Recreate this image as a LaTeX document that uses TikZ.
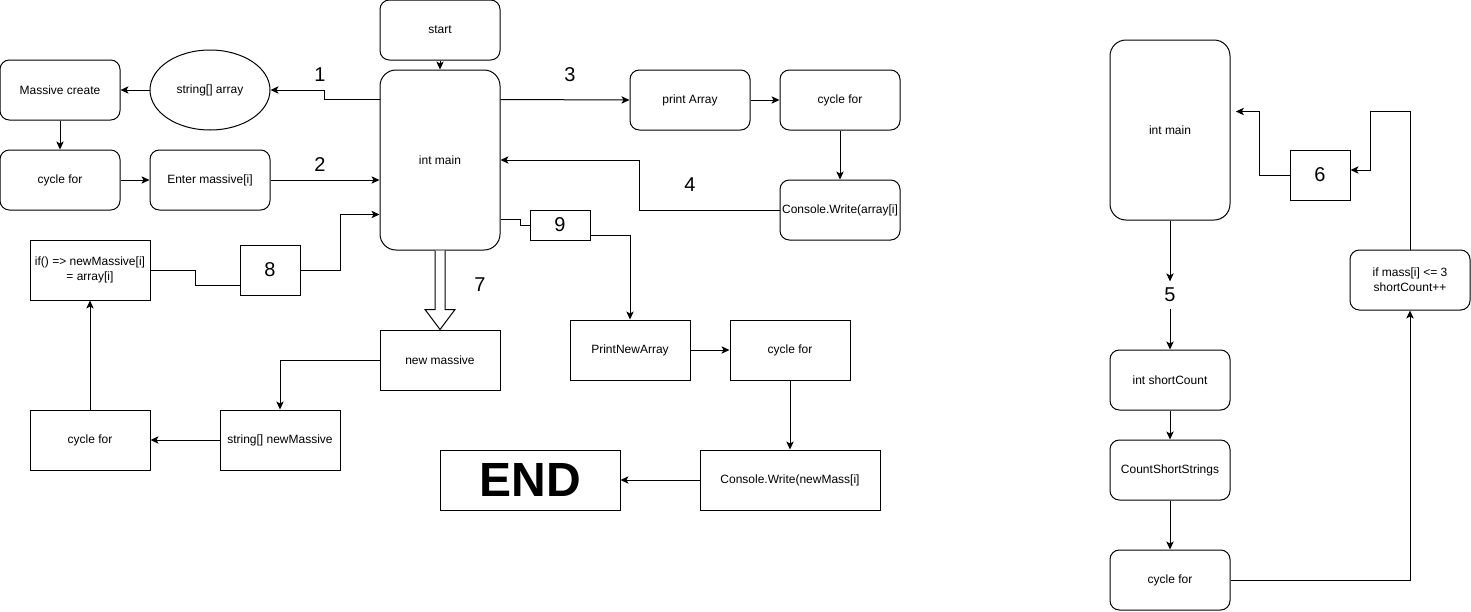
\documentclass[tikz,border=0pt]{standalone}
\usepackage{fontspec}
\setmainfont{Liberation Sans}
\usetikzlibrary{calc, positioning, arrows.meta, shapes.geometric}

\begin{document}
\begin{tikzpicture}[
  x=0.75pt, y=-0.75pt,
  font=\fontsize{9}{11}\selectfont,
  rbox/.style={rectangle, rounded corners=#1, draw, line width=0.75pt,
               minimum width=90pt, minimum height=45pt,
               align=center, inner sep=1pt},
  rbox/.default=7pt,
  sbox/.style={rectangle, draw, line width=0.75pt,
               minimum width=90pt, minimum height=45pt,
               align=center, inner sep=1pt},
  numbox/.style={sbox, minimum width=45pt, minimum height=37.5pt,
                 font=\fontsize{15}{18}\selectfont},
  num/.style={inner sep=0pt, minimum height=20pt,
              font=\fontsize{15}{18}\selectfont},
  arr/.style={-{Stealth[length=6pt, width=5.5pt, inset=1.5pt]}, line width=0.75pt},
  ln/.style={line width=0.75pt}
]
\useasboundingbox (0,0) rectangle (1471,611);

%% Main program
\node[rbox] (start) at (440,30) {start};
\node[rbox=12pt, minimum height=135pt] (main) at (440,160) {int main};

%% 1-2: creating the array
\node[rbox] (mcreate) at (60,90) {Massive create};
\node[ellipse, draw, line width=0.75pt, minimum width=90pt, minimum height=60pt,
      inner sep=1pt] (arr) at (210,90) {string[] array};
\node[rbox] (cyc1) at (60,180) {cycle for};
\node[rbox] (enter) at (210,180) {Enter massive[i]};
\node[num] (l1) at (320,75) {1};
\node[num] (l2) at (320,165) {2};

%% 3-4: printing the array
\node[rbox] (printarr) at (690,100) {print Array};
\node[rbox] (cyc4) at (840,100) {cycle for};
\node[rbox] (cwarr) at (840,210) {Console.Write(array[i]};
\node[num] (l3) at (570,75) {3};
\node[num] (l4) at (690,185) {4};

%% 7-8: new array
\node[sbox] (newmass) at (440,360) {new massive};
\node[sbox] (strnew) at (280,440) {string[] newMassive};
\node[sbox] (cyc2) at (90,440) {cycle for};
\node[sbox] (ifnew) at (90,270) {if() => newMassive[i]\\= array[i]};
\node[numbox] (n8) at (270,270) {8};
\node[num] (l7) at (480,285) {7};

%% 9: printing the new array
\node[numbox, minimum height=22.5pt] (n9) at (560,225) {9};
\node[sbox] (printnew) at (630,350) {PrintNewArray};
\node[sbox] (cyc3) at (790,350) {cycle for};
\node[sbox, minimum width=135pt] (cwnew) at (790,480) {Console.Write(newMass[i]};
\node[sbox, minimum width=135pt, font=\fontsize{36}{40}\selectfont\bfseries]
  (endbox) at (530,480) {END};

%% 5-6: CountShortStrings
\node[rbox=12pt, minimum height=135pt] (main2) at (1170,130) {int main};
\node[num] (l5) at (1170,295) {5};
\node[rbox] (shortc) at (1170,380) {int shortCount};
\node[rbox] (countss) at (1170,470) {CountShortStrings};
\node[rbox] (cyc5) at (1170,580) {cycle for};
\node[rbox] (ifmass) at (1410,280) {if mass[i] <= 3\\shortCount++};
\node[numbox] (n6) at (1320,175) {6};

%% connectors
\draw[arr] (start) -- (main);
\draw[arr] ($(main.north west)+(0,30)$) -- ++(-55,0) |- (arr.east);
\draw[arr] (arr) -- (mcreate);
\draw[arr] (mcreate) -- (cyc1);
\draw[arr] (cyc1) -- (enter);
\draw[arr] (enter.east) -- (enter.east -| main.west);
\draw[arr] ($(main.north east)+(0,30)$) -- (printarr.west);
\draw[arr] (printarr) -- (cyc4);
\draw[arr] (cyc4) -- (cwarr);
\draw[arr] (cwarr.west) -- ++(-140,0) |- (main.east);
\draw[ln] (ifnew.east) -- ++(45,0) |- ($(n8.west)+(0,15)$);
\draw[arr] (n8.east) -- ++(40,0) |- ($(main.north west)+(0,145)$);
\draw[ln, fill=white] ($(main.south)+(-5,0)$) -- ($(newmass.north)+(-5,-20)$)
  -- ($(newmass.north)+(-15,-20)$) -- (newmass.north)
  -- ($(newmass.north)+(15,-20)$) -- ($(newmass.north)+(5,-20)$)
  -- ($(main.south)+(5,0)$);
\draw[arr] (newmass.west) -| (strnew.north);
\draw[arr] (strnew) -- (cyc2);
\draw[arr] (cyc2) -- (ifnew);
\draw[ln] ($(main.north east)+(0,150)$) -- ++(20,0) |- (n9.west);
\draw[arr] ($(n9.east)+(0,10)$) -| (printnew.north);
\draw[arr] (printnew) -- (cyc3);
\draw[arr] (cyc3) -- (cwnew);
\draw[arr] (cwnew) -- (endbox);
\draw[arr] (main2.south) -- (l5.north);
\draw[arr] (l5.south) -- (shortc.north);
\draw[arr] (shortc) -- (countss);
\draw[arr] (countss) -- (cyc5);
\draw[arr] (cyc5.east) -| (ifmass.south);
\draw[arr] (ifmass.north) -- ++(0,-138) -- ++(-40,0) |- ($(n6.east)+(0,-5)$);
\draw[arr, shorten >=4pt] (n6.west) -- ++(-30,0) |- ($(main2.north east)+(0,72)$);

\end{tikzpicture}
\end{document}
